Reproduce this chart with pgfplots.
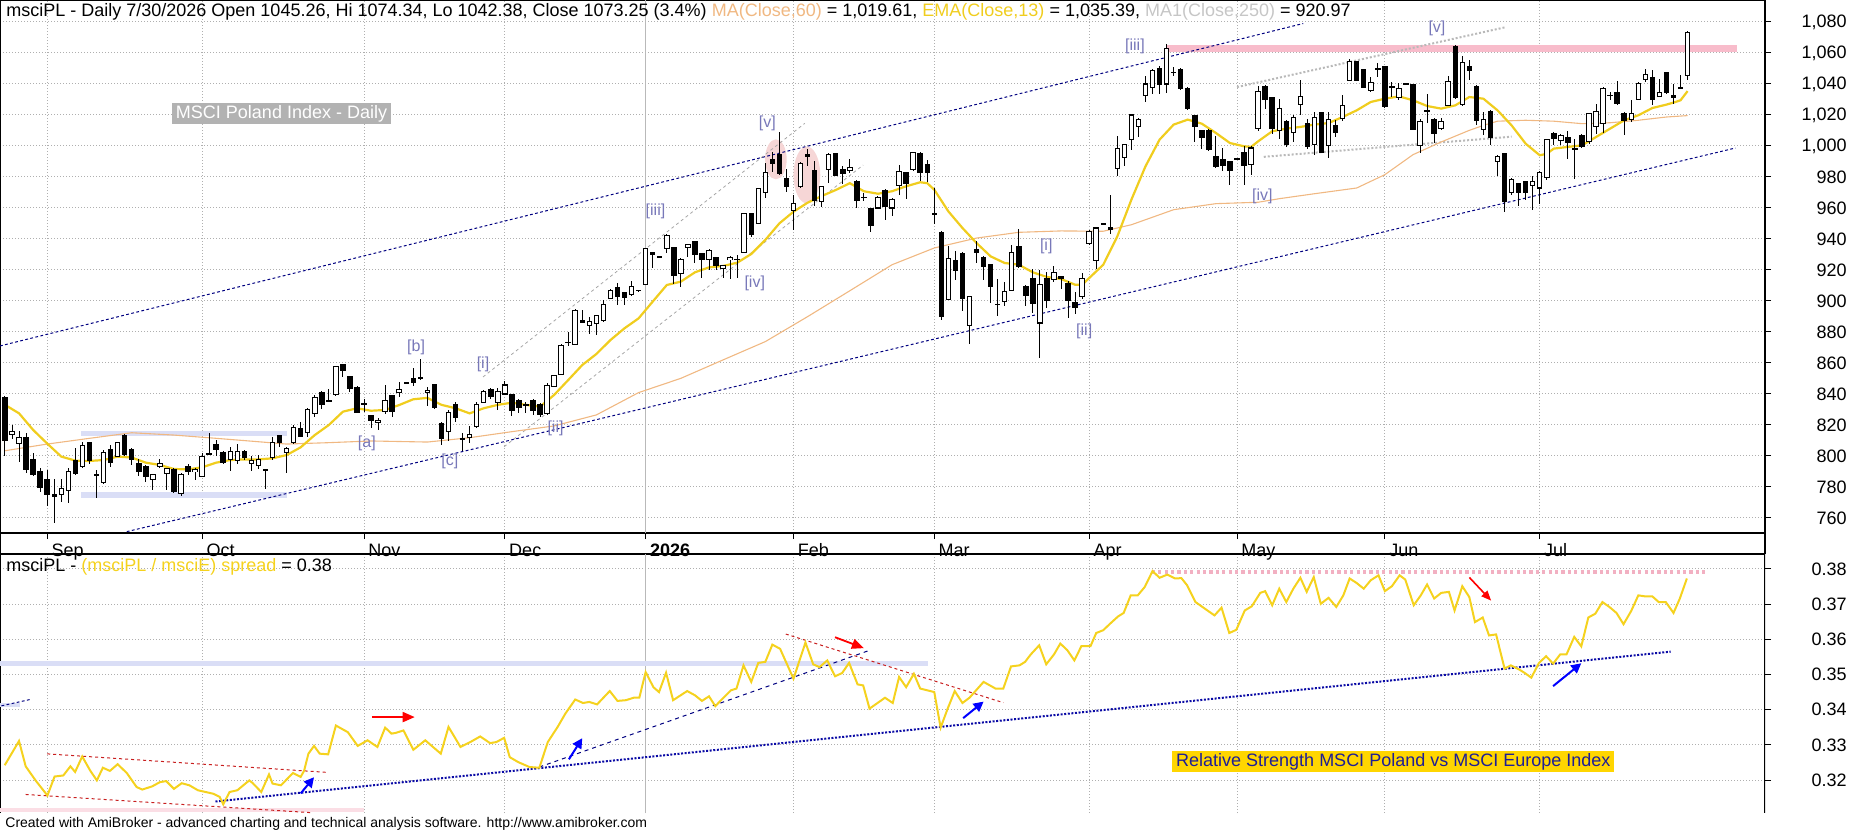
\documentclass[border=0pt]{standalone}
\usepackage{pgfplots}
\pgfplotsset{compat=1.18}
\usepackage{pgfplotstable}
\usepackage{fontspec}
\setmainfont{Liberation Sans}
\usetikzlibrary{arrows.meta}
\definecolor{emacol}{RGB}{240,205,30}
\definecolor{macol}{RGB}{240,184,130}
\definecolor{navyc}{RGB}{0,0,128}
\definecolor{ewcol}{RGB}{120,120,185}
\definecolor{gridc}{RGB}{175,175,175}
\definecolor{pinkband}{RGB}{248,188,203}
\definecolor{pinkdot}{RGB}{242,176,194}
\definecolor{blueband}{RGB}{218,222,246}
\definecolor{spreadcol}{RGB}{245,210,30}
\definecolor{labelbox}{RGB}{255,214,0}
\definecolor{labeltext}{RGB}{30,30,150}
\definecolor{darkred}{RGB}{200,30,30}
\definecolor{bluedot}{RGB}{10,10,165}
\definecolor{ellpink}{RGB}{246,214,214}
\newcommand\fs{\fontsize{9}{10.5}\selectfont}
\newcommand\ew{\fontsize{8}{9}\selectfont}

\pgfplotstableread{
i O H L C
0 838 839 800 810
1 814 820 811 815.5
2 808 816 796 812
3 812 815 789 791
4 798 802 787 788
5 790 792 777 780
6 785 791 768 775
7 775 785 757 774
8 775 785 770 779
9 778 792 770 790
10 797 805 788 789
11 793 809 792 807
12 809 809 795 797
13 788 791 773 788
14 783 804 782 802
15 804 807 793 796
16 800 809 800 809
17 813 814 800 801
18 804 805 794 798
19 795 798 787 790
20 793 794 783 787
21 785 788 778 788
22 793 798 792 795
23 789 792 778 792
24 791 792 776 777
25 776 789 774 788
26 793 795 788 790
27 790 792 784.5 791
28 787 802 787 800
29 801.7 814.6 800.6 801.5
30 807.5 810 800 804.5
31 802 803 795 796
32 798 806 790.5 803
33 797 808 795 803
34 803 804 797.5 799
35 795 800 790.5 797
36 794 800.6 791.4 798
37 791.5 791.5 778.5 790.5
38 799 812.5 797.4 809
39 813.5 813.5 806 809
40 802 806 789 805
41 808.6 820 808 818.5
42 818 822 812 812.5
43 815 831 812.5 830
44 827.5 839.4 825 838
45 841 842 830 833.5
46 835.7 843 834.6 835
47 839.4 858 838.7 857.6
48 859 859.4 851 855
49 851.6 851.6 841.5 843.7
50 844 845 827.5 828
51 834 837 828.5 833.5
52 826 826 818 823
53 821.7 824.3 817 823
54 829 846 827 835.7
55 838.7 839.4 825.4 828.6
56 841 848 838 843
57 847.3 848 846.5 847.3
58 850 856.6 845 847.5
59 850.5 862.6 849 850
60 841 844.5 832 842.5
61 846 846 830 831
62 821 822 807 811
63 816 830 810 828
64 833.5 835 822 825
65 811 815 803 810.5
66 812 819.4 808.6 814
67 819 835 818 833
68 834.4 842.5 834 841.5
69 843 843.7 836.6 838.3
70 834.4 843.7 829.7 841.5
71 840 848.6 839.6 845.8
72 839.6 840 826 829.5
73 836 836.6 828 831
74 833 835 828 833
75 835.5 836.6 826.6 829.5
76 833 834.4 825.4 827
77 827.5 847 826.6 845.8
78 844.7 852.3 844.7 852
79 852.7 872.3 852.3 871.6
80 873.5 880 871 873.5
81 872 894.6 871.6 894
82 887.7 894 885.6 886.2
83 884.5 890 879 887
84 885.6 891 878 890.5
85 887.7 900.6 886.6 898
86 901.7 907.5 901 906.5
87 908.6 911.8 897.4 902.8
88 905.6 906 897.4 902.4
89 904.3 913 903.2 909.2
90 906.9 907 906.5 906.9
91 910.8 934.4 910.3 933.8
92 931.4 931.8 921.5 929.7
93 928.6 928.8 928.4 928.6
94 934 943 931 942
95 934.6 935 911 916.3
96 918 927.5 908.8 927
97 934.6 937 928.6 936.6
98 938.3 939 924.7 930
99 930.8 931.2 914.6 927
100 926.5 933.3 920 932.5
101 928.2 928.6 920 922.8
102 921 923.2 914.6 922.6
103 926.5 929 914.2 928.2
104 927 929.7 914.6 926.8
105 931.2 957 930.8 956.6
106 956.6 957 941.5 943.2
107 950.1 973 949.7 972.7
108 970 989 966.2 983.2
109 991.6 996.3 983.4 988.8
110 994.8 1009.2 981.3 982
111 979.1 985 970.5 973.8
112 958.3 968.4 945.8 963
113 973.8 990 973.1 988.8
114 994.8 997.8 987 993
115 983.9 990.3 961.3 964.7
116 964.5 974.2 960.4 973.8
117 985 995.2 975.9 994.8
118 995.3 995.7 980.4 981
119 985 987 975.5 982
120 984.5 991.4 982.8 986.2
121 977.2 978.3 960 965
122 967 969.7 964.3 966.8
123 959.6 960 944.3 948.8
124 960 967.5 959.4 966.5
125 971.2 972.3 952.5 961
126 960 966.5 954.6 965.8
127 974.4 988 968.6 983.7
128 982.6 983 965.8 975.5
129 984.7 996 983.7 995.5
130 995 996 977.2 983.2
131 988 991.2 976.6 983
132 956.5 972.9 949.7 956.3
133 943.9 945 888 890.1
134 900.8 935.3 900.4 927.7
135 926 932 913.8 919.8
136 930.5 931.4 893.3 901.3
137 884.1 903.5 872.5 902.6
138 933.1 938.5 924.5 931
139 928.2 928.8 913.3 922.4
140 923.6 924 898.5 909.5
141 898 914.5 890.5 897.5
142 899.4 912 896.6 906.2
143 906.9 936.3 906.2 931
144 935.3 946.7 921.3 922
145 909.5 910.5 897 903.7
146 914.8 920.9 892.3 898.7
147 885.8 920.3 863.2 910.5
148 914.8 918.5 895.5 900.4
149 913.8 922.8 912.3 918.5
150 916 916.3 907.7 914.2
151 911.6 912.7 889 900.2
152 899.1 906 891.8 896.1
153 902.6 918 901.3 914.8
154 937.4 946 936.3 945
155 926 947.5 920.6 947.1
156 949.9 950 949.7 949.9
157 947.7 968.6 943.4 946
158 985.2 1006.2 980.4 998.7
159 992.7 1001.3 987.3 1000.9
160 1004.5 1020.4 997.2 1020
161 1012.3 1018 1005.8 1017.4
162 1032.5 1045.4 1028.2 1040
163 1038 1049.7 1033.8 1048.8
164 1050.3 1051.8 1033.5 1040
165 1040 1066 1034.2 1063.2
166 1047.7 1051 1045 1047.5
167 1049.2 1050.3 1036.3 1037.4
168 1037.4 1037.8 1023 1023.9
169 1019.6 1020.2 1002.6 1012.7
170 1010 1010.5 998.1 1005.8
171 1009.9 1011 996.6 998
172 993 1006.7 985.8 987
173 991.6 998.7 983.7 987.3
174 990.1 990.5 975 984.3
175 991.6 992 991 991.6
176 995.9 999.8 975 987.3
177 988 999.8 981.5 998.7
178 1011 1039 1009.5 1035.3
179 1038.5 1039.6 1023.9 1030
180 1031 1031.4 1008 1011
181 1010 1030.5 1004.7 1024.5
182 1016 1016.6 999.4 1000.9
183 1008.6 1020 1002.6 1018.3
184 1026.7 1042.4 1020 1032
185 1014.8 1017.6 998.3 1000
186 1000.9 1022 994.4 1018.3
187 1021.5 1022 995.7 996.1
188 1000.4 1022 992.3 1017.2
189 1013.3 1016.6 1005.8 1009
190 1017.6 1032.7 1015.9 1026.2
191 1042.4 1056.3 1041.7 1054.2
192 1054.2 1054.6 1041.7 1042.4
193 1049.5 1049.9 1037.4 1038
194 1035.9 1044.5 1034.8 1040.9
195 1050 1053.8 1044.5 1049.8
196 1051 1051.6 1024.7 1025.2
197 1038.5 1041.3 1031.6 1038
198 1031 1040.9 1029.5 1037
199 1040.2 1040.5 1040 1040.2
200 1039.6 1040.2 1010.1 1010.8
201 1000.4 1017.2 995.7 1016.1
202 1022.6 1033.8 1015 1022.5
203 1016.8 1018 1002.2 1008
204 1011.2 1018 1010.1 1015.9
205 1026.2 1045 1025.8 1041.7
206 1064.3 1065.4 1030.1 1031
207 1026.7 1058 1025.8 1053.8
208 1051.4 1055.3 1042.4 1048.4
209 1038.5 1039.1 1013.3 1016.6
210 1010.5 1022 1006.9 1017
211 1022 1023 1000.4 1005.2
212 989.7 994 980.6 993.5
213 995 995.7 957.4 963.9
214 970.3 979.4 968.2 978.3
215 975.7 976.1 961.3 970.3
216 977.2 977.6 965 970.3
217 974.6 980.4 958.5 976.8
218 972.9 983.7 962.8 982.8
219 979.4 1004.7 977.8 1004.1
220 1008 1009 1000.9 1004.7
221 1003.7 1008 1000.9 1006.5
222 1005.2 1009.7 991.8 1002.2
223 998.3 1004.7 978.5 998.3
224 1006.5 1008 998.7 999.4
225 1002.6 1021.5 1001.5 1020.9
226 1012.7 1027.3 1008 1022
227 1014.4 1038 1008.6 1037.4
228 1032.7 1034.8 1029.5 1032.5
229 1034.4 1041.7 1026.2 1027.3
230 1020.9 1022 1007.3 1016.6
231 1017 1030 1015.5 1020.9
232 1029.9 1041.3 1029.5 1040.6
233 1043 1049.5 1041.3 1046
234 1043.9 1048.8 1026.7 1030.1
235 1032 1043 1031.6 1034.4
236 1047.3 1047.7 1033.8 1034.4
237 1032.7 1040.2 1027.3 1031
238 1037.8 1045.6 1037.4 1037.6
239 1045.26 1074.34 1042.38 1073.25
}\ohlc

\begin{document}
\begin{tikzpicture}

%================ TOP PANEL =================
\begin{axis}[
  at={(0pt,149pt)}, anchor=south west,
  scale only axis, width=882.5pt, height=266.5pt,
  xmin=-0.71, xmax=250, ymin=750.32, ymax=1094.19,
  axis line style={line width=0.6pt},
  ytick={760,780,...,1080},
  ytick pos=right, yticklabel pos=right,
  xtick={6,28,51,71,91,112,132,154,175,196,218},
  xticklabels={Sep,Oct,Nov,Dec,\textbf{2026},Feb,Mar,Apr,May,Jun,Jul},
  xtick pos=left,
  tick align=outside, major tick length=3pt,
  tick style={black, line width=0.5pt},
  ymajorgrids, xmajorgrids,
  grid style={gridc, line width=0.5pt, dash pattern=on 0.5pt off 1pt},
  scaled y ticks=false,
  /pgf/number format/assume math mode=true,
  /pgf/number format/1000 sep={,},
  yticklabel style={font=\fs, anchor=east, inner sep=0pt, xshift=38pt},
  xticklabel style={font=\fs, anchor=base west, inner sep=0pt, xshift=2pt, yshift=-8.5pt},
]
% bands and highlights
\fill[pinkband] (axis cs:165,1060.8) rectangle (axis cs:246,1065.2);
\fill[blueband] (axis cs:10.8,812.9) rectangle (axis cs:40,816.3);
\fill[blueband] (axis cs:10.8,773.1) rectangle (axis cs:40,776.6);
\fill[ellpink] (axis cs:109.5,991.4) ellipse [x radius=5.4pt, y radius=10pt];
\fill[ellpink] (axis cs:113.9,981.3) ellipse [x radius=6.7pt, y radius=14.2pt];
\draw[gray!55, line width=0.5pt] (axis cs:91,750.32) -- (axis cs:91,1094.19);

% channel and trend lines
\addplot[navyc, line width=0.5pt, dash pattern=on 1.4pt off 1.2pt, forget plot] coordinates {(-0.71,871) (184.4,1079)};
\addplot[navyc, line width=0.5pt, dash pattern=on 1.4pt off 1.2pt, forget plot] coordinates {(17.3,751.2) (245.8,998.7)};
\addplot[gray!70, line width=0.4pt, dash pattern=on 1.5pt off 1.5pt, forget plot] coordinates {(67.9,851) (113.6,1014.6)};
\addplot[gray!70, line width=0.4pt, dash pattern=on 1.5pt off 1.5pt, forget plot] coordinates {(70.9,806) (121.9,987.7)};
\addplot[gray!55, line width=1pt, dash pattern=on 1pt off 1pt, forget plot] coordinates {(175,1038) (213.1,1076.6)};
\addplot[gray!55, line width=1pt, dash pattern=on 1pt off 1pt, forget plot] coordinates {(178.8,993) (214,1006)};

% MA(60)
\addplot[macol, line width=0.55pt, forget plot] coordinates {
(0,803.4) (6,807.7) (12,811.4) (18,815) (24,813.5) (30,811.4) (36,809.2) (40,807.7)
(46,808.6) (52,809.7) (60,809) (66,811.8) (72,815.7) (78,819.4) (84,826.5) (90,840.9)
(96,850.1) (102,862) (108,873.8) (114,889.9) (120,906.6) (126,923.4) (132,934.2)
(138,940.6) (144,944.3) (150,945.2) (156,945) (160,949.2) (166,958.9) (172,962.8)
(178,963.7) (181,966) (186,969.2) (192,972.9) (196,981.5) (200,994.4) (204,1002.6)
(208,1010.1) (210,1013.3) (212,1016) (216,1016.6) (220,1016) (224,1014.4) (228,1015)
(232,1016.6) (236,1018.7) (239,1019.6)};
% EMA(13)
\addplot[emacol, line width=1.1pt, forget plot] coordinates {
(0,833) (2,827.5) (4,816.8) (6,808) (8,799.6) (10,797) (12,796.8) (14,797.4) (16,799.6)
(18,799) (20,795.7) (22,794.2) (24,791.6) (26,791.4) (28,792.7) (30,795.7) (32,797.4)
(34,797.8) (36,797.8) (38,798.5) (40,800.6) (42,805.6) (44,813.5) (46,820) (48,828.6)
(50,830.8) (52,829.2) (54,829.7) (56,832.9) (58,836.6) (60,837.5) (62,833) (64,830.8)
(66,827.5) (68,830.8) (70,833) (72,834.4) (74,833) (76,831.8) (78,839.4) (80,849)
(82,858.7) (84,865.8) (86,874.8) (88,882.4) (90,888.8) (92,899.6) (94,910.3) (96,912.5)
(98,918.5) (100,921.7) (102,922.6) (104,924.7) (106,930.3) (108,939.4) (110,950.1)
(112,957.6) (114,963.4) (116,967.7) (118,971.6) (120,976) (122,970.8) (124,969.2)
(126,970.8) (128,974) (130,976.6) (131,976) (132,971.8) (134,957.8) (136,947.1)
(138,937.4) (140,928.8) (142,924.5) (144,923.4) (146,918.5) (148,915.5) (150,914.2)
(152,910.5) (153,910.5) (154,914.8) (156,923.4) (158,941.7) (160,965.4) (162,986.9)
(164,1004.1) (166,1013.8) (168,1017) (170,1014.4) (172,1008.4) (174,1001.9) (176,999.8)
(177,999.4) (178,1003) (180,1009.5) (182,1011.2) (184,1012.3) (186,1013.8) (188,1014.8)
(190,1018.7) (192,1023) (194,1028.4) (196,1030.5) (198,1032) (200,1029.5) (202,1025.8)
(204,1024.1) (206,1026.2) (208,1031.6) (210,1030.5) (212,1023) (214,1013.3) (216,1001.5)
(218,994) (219,995) (220,998.3) (222,999.4) (224,1000.4) (226,1005.8) (228,1011.2)
(230,1016.6) (232,1019.8) (234,1024.5) (236,1026.7) (237,1028) (238,1029.5) (239,1035.4)};

% candles: wicks
\addplot[draw=none, mark=none, forget plot,
  error bars/.cd, y dir=both, y explicit, error mark=none,
  error bar style={draw=black, line width=0.5pt}]
  table[x=i, y expr={(\thisrow{H}+\thisrow{L})/2}, y error expr={(\thisrow{H}-\thisrow{L})/2}] {\ohlc};
% candles: bodies (outline / black fill)
\addplot[draw=none, mark=none, forget plot,
  error bars/.cd, y dir=both, y explicit, error mark=none,
  error bar style={draw=black, line width=2.75pt}]
  table[x=i, y expr={(\thisrow{O}+\thisrow{C})/2}, y error expr={abs(\thisrow{C}-\thisrow{O})/2+0.33}] {\ohlc};
% candles: white interior of rising candles
\addplot[draw=none, mark=none, forget plot,
  restrict expr to domain={\thisrow{C}-\thisrow{O}}{0.7:1000},
  error bars/.cd, y dir=both, y explicit, error mark=none,
  error bar style={draw=white, line width=1.75pt}]
  table[x=i, y expr={(\thisrow{O}+\thisrow{C})/2}, y error expr={(\thisrow{C}-\thisrow{O})/2-0.33}] {\ohlc};

% wave labels
\node[ewcol, font=\ew] at (axis cs:51.4,808.2) {[a]};
\node[ewcol, font=\ew] at (axis cs:58.4,870) {[b]};
\node[ewcol, font=\ew] at (axis cs:63.2,796.4) {[c]};
\node[ewcol, font=\ew] at (axis cs:67.9,859.4) {[i]};
\node[ewcol, font=\ew] at (axis cs:78.2,817.8) {[ii]};
\node[ewcol, font=\ew] at (axis cs:92.4,957.6) {[iii]};
\node[ewcol, font=\ew] at (axis cs:106.5,911.4) {[iv]};
\node[ewcol, font=\ew] at (axis cs:108.3,1014.6) {[v]};
\node[ewcol, font=\ew] at (axis cs:147.9,935.5) {[i]};
\node[ewcol, font=\ew] at (axis cs:153.3,880.6) {[ii]};
\node[ewcol, font=\ew] at (axis cs:160.5,1064.5) {[iii]};
\node[ewcol, font=\ew] at (axis cs:178.6,967.3) {[iv]};
\node[ewcol, font=\ew] at (axis cs:203.4,1075.9) {[v]};
\node[fill=gray!60, text=white, font=\fs, inner sep=0pt, minimum width=109.5pt, minimum height=10.5pt]
  at (axis cs:39.28,1021) {MSCI Poland Index - Daily};
\end{axis}

% month strip borders
\draw[black, line width=0.6pt] (0pt,138.5pt) -- (0pt,149pt);
\draw[black, line width=0.6pt] (882.5pt,138.5pt) -- (882.5pt,149pt);

%================ LOWER PANEL =================
\begin{axis}[
  at={(0pt,9pt)}, anchor=south west,
  scale only axis, width=882.5pt, height=129.5pt,
  xmin=-0.71, xmax=250, ymin=0.31063, ymax=0.38426,
  axis line style={draw=none},
  ytick={0.32,0.33,0.34,0.35,0.36,0.37,0.38},
  ytick pos=right, yticklabel pos=right,
  xtick={6,28,51,71,91,112,132,154,175,196,218},
  xticklabels={},
  x tick style={draw=none},
  y tick style={black, line width=0.5pt},
  tick align=outside, major tick length=3pt,
  ymajorgrids, xmajorgrids,
  grid style={gridc, line width=0.5pt, dash pattern=on 0.5pt off 1pt},
  scaled y ticks=false,
  /pgf/number format/assume math mode=true,
  yticklabel style={font=\fs, anchor=east, inner sep=0pt, xshift=38pt,
     /pgf/number format/.cd, fixed, fixed zerofill, precision=2},
]
\draw[black, line width=0.6pt] (rel axis cs:0,0) -- (rel axis cs:0,1) -- (rel axis cs:1,1) -- (rel axis cs:1,0);
\draw[gray!55, line width=0.5pt] (axis cs:91,0.31063) -- (axis cs:91,0.38426);
\fill[blueband] (axis cs:-0.71,0.3525) rectangle (axis cs:131.1,0.3537);
\fill[blueband] (axis cs:-0.71,0.3407) rectangle (axis cs:2.1,0.3420);
\fill[pinkband!50] (axis cs:-0.71,0.3108) rectangle (axis cs:51,0.3121);
\addplot[navyc, line width=0.5pt, dash pattern=on 1.4pt off 1.2pt, forget plot] coordinates {(-0.5,0.3411) (3.8,0.3430)};
\addplot[darkred, line width=0.5pt, dash pattern=on 1.5pt off 1.5pt, forget plot] coordinates {(6.0,0.32744) (45.6,0.3222)};
\addplot[darkred, line width=0.5pt, dash pattern=on 1.5pt off 1.5pt, forget plot] coordinates {(2.94,0.3159) (43.7,0.3107)};
\addplot[darkred, line width=0.5pt, dash pattern=on 1.5pt off 1.5pt, forget plot] coordinates {(110.9,0.3615) (141.8,0.3420)};
\addplot[navyc, line width=0.5pt, dash pattern=on 2pt off 2pt, forget plot] coordinates {(75.9,0.3237) (122.7,0.3568)};
\addplot[bluedot, line width=1pt, dash pattern=on 1pt off 0.8pt, forget plot] coordinates {(29.9,0.3139) (236.6,0.3565)};
\addplot[pinkdot, line width=2.2pt, dash pattern=on 1.6pt off 1.6pt, forget plot] coordinates {(162.9,0.3791) (241.9,0.3791)};

% spread line
\addplot[spreadcol, line width=1pt, forget plot] coordinates {
(-0.04,0.3242) (1.99,0.3311) (2.94,0.3239) (4.34,0.3199) (6.03,0.3156) (7.04,0.3210) (8.28,0.3213)
(9.29,0.3239) (9.96,0.3223) (10.97,0.3267) (12.1,0.3227) (13.05,0.3199) (13.9,0.3235) (14.9,0.3226)
(16.0,0.3245) (17.3,0.3220) (18.7,0.3180) (19.5,0.3173) (20.9,0.3182) (22.0,0.3194) (22.9,0.3197)
(24.0,0.3175) (25.1,0.3191) (26.2,0.3185) (27.4,0.3171) (28.5,0.3166) (29.6,0.3161) (30.5,0.3152)
(31.0,0.3131) (31.9,0.3166) (33.0,0.3171) (34.7,0.3199) (35.2,0.3191) (36.4,0.3166) (37.5,0.3216)
(38.0,0.3190) (39.2,0.3185) (40.9,0.3220) (42.0,0.3209) (42.5,0.3227) (43.1,0.3275) (43.9,0.3297)
(44.7,0.3275) (45.9,0.3273) (47.0,0.3355) (48.7,0.3336) (50.1,0.3297) (51.5,0.3313) (52.9,0.3294)
(54.0,0.3349) (54.9,0.3332) (55.5,0.3334) (56.6,0.3341) (58.0,0.3286) (59.7,0.3313) (60.5,0.3299)
(61.9,0.3275) (63.0,0.3351) (64.7,0.3294) (66.1,0.3308) (67.5,0.3324) (68.9,0.3305) (69.8,0.3308)
(70.9,0.3320) (71.7,0.3265) (72.9,0.3251) (74.5,0.3237) (75.9,0.3235) (77.1,0.3308) (78.5,0.3351)
(79.6,0.3389) (81.0,0.3429) (82.1,0.3419) (83.0,0.3422) (84.1,0.3415) (85.9,0.3453) (87.0,0.3425)
(88.2,0.3427) (89.3,0.3434) (90.1,0.3434) (91.0,0.3507) (92.1,0.3464) (92.9,0.3450) (93.9,0.3505)
(94.9,0.3427) (96.9,0.3453) (98.0,0.3441) (99.0,0.3425) (100.0,0.3438) (100.9,0.3410) (101.9,0.3431)
(103.1,0.3455) (103.9,0.3460) (104.9,0.3526) (106.0,0.3479) (107.0,0.3533) (108.0,0.3536) (109.0,0.3585)
(110.1,0.3573) (112.0,0.3488) (113.7,0.3591) (114.8,0.3529) (115.7,0.3521) (116.8,0.3540) (117.9,0.3495)
(118.9,0.3504) (119.9,0.3533) (121.1,0.3472) (121.9,0.3469) (122.8,0.3403) (125.0,0.3434) (126.1,0.3419)
(127.0,0.3493) (128.0,0.3464) (129.1,0.3502) (130.0,0.3460) (132.0,0.3450) (132.9,0.3349) (133.9,0.3403)
(134.9,0.3453) (136.0,0.3419) (137.0,0.3434) (139.0,0.3479) (140.7,0.3460) (141.8,0.3460) (142.9,0.3523)
(144.1,0.3526) (144.9,0.3536) (145.7,0.3557) (146.9,0.3583) (147.9,0.3529) (149.0,0.3557) (149.9,0.3588)
(150.9,0.3569) (151.9,0.3540) (152.9,0.3581) (154.2,0.3581) (155.0,0.3618) (156.0,0.3626) (157.0,0.3645)
(158.1,0.3665) (158.9,0.3675) (159.9,0.3725) (160.9,0.3725) (161.9,0.3749) (163.0,0.3794) (164.0,0.3775)
(165.1,0.3784) (166.2,0.3773) (167.1,0.3774) (167.9,0.3754) (169.1,0.3706) (170.8,0.3682) (171.8,0.3668)
(172.8,0.3690) (173.9,0.3618) (174.9,0.3627) (176.1,0.3682) (177.1,0.3694) (178.3,0.3732) (179.0,0.3737)
(180.0,0.3697) (181.0,0.3744) (182.0,0.3706) (183.0,0.3744) (184.0,0.3775) (184.9,0.3735) (185.9,0.3777)
(186.9,0.3701) (188.0,0.3718) (189.1,0.3692) (190.1,0.3725) (191.0,0.3773) (192.0,0.3760) (193.0,0.3744)
(194.0,0.3768) (195.1,0.3782) (196.0,0.3737) (197.0,0.3751) (198.1,0.3782) (198.9,0.3770) (200.1,0.3697)
(201.1,0.3725) (202.0,0.3756) (203.0,0.3716) (204.0,0.3732) (205.1,0.3735) (205.9,0.3682) (207.0,0.3751)
(208.0,0.3720) (208.8,0.3649) (209.9,0.3662) (210.8,0.3611) (211.8,0.3614) (213.0,0.3517) (213.9,0.3526)
(215.1,0.3514) (215.9,0.3504) (216.8,0.3491) (217.9,0.3533) (218.9,0.3552) (219.9,0.3531) (220.9,0.3557)
(221.8,0.3557) (222.9,0.3607) (223.9,0.3580) (224.9,0.3662) (225.9,0.3673) (226.9,0.3706) (227.9,0.3692)
(228.9,0.3675) (229.9,0.3643) (231.0,0.3681) (232.0,0.3725) (233.0,0.3722) (234.0,0.3722) (234.9,0.3706)
(235.9,0.3706) (237.0,0.3675) (237.9,0.3716) (238.9,0.3773)};

% arrows
\draw[red, line width=0.9pt, -{Triangle[length=6pt,width=5pt]}] (axis cs:52.1,0.3379) -- (axis cs:58.2,0.3379);
\draw[red, line width=0.9pt, -{Triangle[length=6pt,width=5pt]}] (axis cs:117.9,0.3606) -- (axis cs:122.0,0.3575);
\draw[red, line width=0.8pt, -{Triangle[length=5pt,width=4pt]}] (axis cs:208,0.3776) -- (axis cs:211.1,0.3710);
\draw[blue, line width=1pt, -{Triangle[length=5pt,width=5pt]}] (axis cs:42,0.3162) -- (axis cs:43.9,0.3208);
\draw[blue, line width=1pt, -{Triangle[length=5pt,width=5pt]}] (axis cs:80.1,0.3259) -- (axis cs:82,0.3319);
\draw[blue, line width=1pt, -{Triangle[length=5pt,width=5pt]}] (axis cs:136.1,0.3376) -- (axis cs:139,0.3423);
\draw[blue, line width=1pt, -{Triangle[length=5pt,width=5pt]}] (axis cs:219.9,0.3467) -- (axis cs:223.9,0.3532);

\node[fill=labelbox, text=labeltext, font=\fs, inner sep=0pt, minimum width=221pt, minimum height=10.5pt]
  at (axis cs:197.2,0.32531) {Relative Strength MSCI Poland vs MSCI Europe Index};
\end{axis}

% titles
\node[anchor=base west, inner sep=0pt, font=\fs] at (3pt,407pt) {msciPL - Daily 7/30/2026 Open 1045.26, Hi 1074.34, Lo 1042.38, Close 1073.25 (3.4\%) \textcolor{macol}{MA(Close,60)} = 1,019.61, \textcolor{emacol}{EMA(Close,13)} = 1,035.39, \textcolor{gray!45}{MA1(Close,250)} = 920.97};
\node[anchor=base west, inner sep=0pt, font=\fs] at (3pt,129.6pt) {msciPL - \textcolor{spreadcol}{(msciPL / msciE) spread} = 0.38};
\node[anchor=base west, inner sep=0pt, font=\fontsize{7}{8}\selectfont] at (2.5pt,2pt) {Created with AmiBroker - advanced charting and technical analysis software. http://www.amibroker.com};

\pgfresetboundingbox
\path (0pt,0pt) rectangle (925pt,415.5pt);
\end{tikzpicture}
\end{document}
